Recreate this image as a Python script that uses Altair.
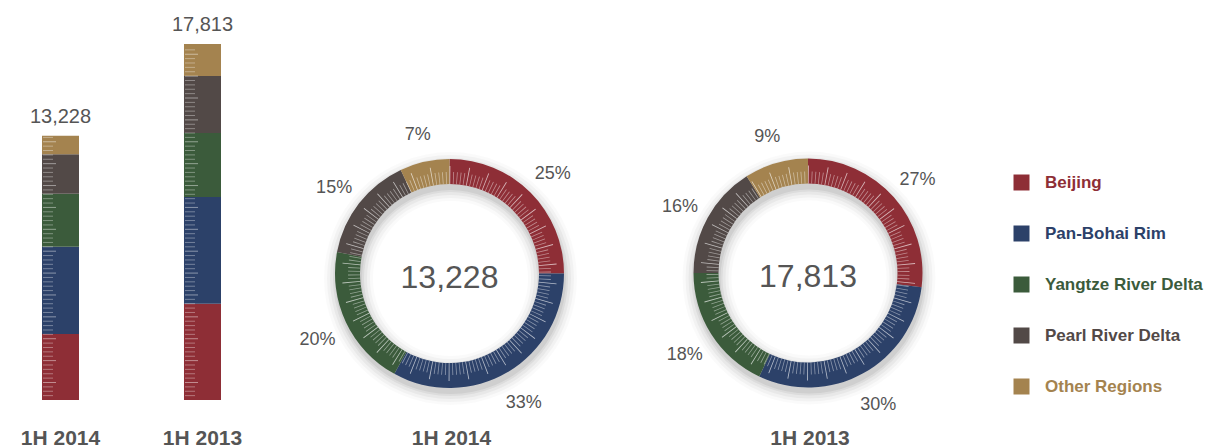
import altair as alt
import numpy as np
import pandas as pd

# ---------------- data ----------------
periods = ["1H 2014", "1H 2013"]
regions = ["Beijing", "Pan-Bohai Rim", "Yangtze River Delta", "Pearl River Delta", "Other Regions"]
colors = ["#8e2e36", "#2c4169", "#3b5b3b", "#524947", "#a4834f"]
values_2014 = [3307, 4365, 2646, 1984, 926]
values_2013 = [4810, 5344, 3206, 2850, 1603]

rows = []
for p, vals in zip(periods, [values_2014, values_2013]):
    for i, (r, v) in enumerate(zip(regions, vals)):
        rows.append({"period": p, "region": r, "value": v, "order": i})
df = pd.DataFrame(rows)

FONT = "Liberation Sans"
TXT = "#555555"

# decorative ruler texture (not data)
tick_step = 219
bar_tick_rows = []
for p, vals in zip(periods, [values_2014, values_2013]):
    total = sum(vals)
    k = 1
    while k * tick_step < total - 80:
        bar_tick_rows.append({"period": p, "y": k * tick_step, "major": k % 5 == 4})
        k += 1
bar_ticks = pd.DataFrame(bar_tick_rows)

n_ring = 170
ring = pd.DataFrame({"t": np.arange(n_ring) / n_ring, "major": np.arange(n_ring) % 5 == 0})

# ---------------- scales ----------------
x_scale = alt.Scale(domain=periods, range=[34, 213], paddingInner=0.7394, paddingOuter=0)
y_scale = alt.Scale(domain=[0, 17813], range=[392, 36], nice=False, zero=True)
color_scale = alt.Scale(domain=regions, range=colors)
theta_scale = alt.Scale(domain=[0, 1], range=[0, 2 * np.pi])

color_enc = alt.Color(
    "region:N",
    scale=color_scale,
    sort=regions,
    legend=alt.Legend(
        orient="none", legendX=1005, legendY=166, title=None,
        symbolType="square", symbolSize=256, symbolStrokeWidth=0, symbolOpacity=1,
        labelFont=FONT, labelFontSize=17, labelFontWeight="bold",
        labelColor={"expr": "scale('color', datum.value)"},
        rowPadding=33, labelOffset=15, padding=0,
    ),
)

X = alt.X("period:N", scale=x_scale, axis=None)

# ---------------- bars ----------------
bars = alt.Chart(df).mark_bar().encode(
    x=X,
    y=alt.Y("value:Q", scale=y_scale, axis=None, stack="zero"),
    color=color_enc,
    order=alt.Order("order:Q"),
)

minor_bt = alt.Chart(bar_ticks).transform_filter("!datum.major").mark_tick(
    color="white", thickness=1, size=10, xOffset=-12.5, opacity=0.35
).encode(x=X, y=alt.Y("y:Q", scale=y_scale))
major_bt = alt.Chart(bar_ticks).transform_filter("datum.major").mark_tick(
    color="white", thickness=1, size=13, xOffset=-11, opacity=0.45
).encode(x=X, y=alt.Y("y:Q", scale=y_scale))

bar_totals = alt.Chart(df).transform_aggregate(total="sum(value)", groupby=["period"]).mark_text(
    font=FONT, fontSize=20, color=TXT, baseline="alphabetic", dy=-13
).encode(x=X, y=alt.Y("total:Q", scale=y_scale), text=alt.Text("total:Q", format=","))

bar_names = alt.Chart(df).transform_aggregate(n="count()", groupby=["period"]).mark_text(
    font=FONT, fontSize=21, fontWeight="bold", color=TXT, baseline="alphabetic"
).encode(x=X, y=alt.value(437), text="period:N")

layers = [bars, minor_bt, major_bt, bar_totals, bar_names]

# ---------------- donuts ----------------
R_IN, R_OUT = 89.5, 114.5


def donut(period, cx, cy):
    one = pd.DataFrame({"period": [period]})
    out = []
    for k, op in [(12, 0.02), (9, 0.03), (6, 0.04), (3, 0.05), (1, 0.06)]:
        out.append(
            alt.Chart(one).mark_arc(
                theta=0, theta2=2 * np.pi, innerRadius=R_IN - k, outerRadius=R_OUT + k,
                color="#000000", opacity=op,
            ).encode(x=alt.value(cx + 1), y=alt.value(cy + 5))
        )
    d = (
        alt.Chart(df)
        .transform_filter(alt.datum.period == period)
        .transform_joinaggregate(total="sum(value)")
        .transform_window(cum="sum(value)", sort=[alt.SortField("order")], frame=[None, 0])
        .transform_calculate(
            start="(datum.cum - datum.value) / datum.total",
            end="datum.cum / datum.total",
            mid="(datum.cum - datum.value / 2) / datum.total",
            pct="datum.value / datum.total",
        )
    )
    out.append(
        d.mark_arc(innerRadius=R_IN, outerRadius=R_OUT).encode(
            x=alt.value(cx), y=alt.value(cy),
            theta=alt.Theta("start:Q", scale=theta_scale), theta2="end:Q",
            color=color_enc,
        )
    )
    rt = alt.Chart(ring).transform_calculate(t2="datum.t + 0.0013")
    out.append(
        rt.transform_filter("!datum.major").mark_arc(
            innerRadius=R_IN, outerRadius=R_IN + 12, color="white", opacity=0.45
        ).encode(x=alt.value(cx), y=alt.value(cy),
                 theta=alt.Theta("t:Q", scale=theta_scale), theta2="t2:Q")
    )
    out.append(
        rt.transform_filter("datum.major").mark_arc(
            innerRadius=R_IN, outerRadius=R_IN + 18, color="white", opacity=0.65
        ).encode(x=alt.value(cx), y=alt.value(cy),
                 theta=alt.Theta("t:Q", scale=theta_scale), theta2="t2:Q")
    )
    out.append(
        d.mark_text(radius=146, font=FONT, fontSize=18, color=TXT, dy=4).encode(
            x=alt.value(cx), y=alt.value(cy),
            theta=alt.Theta("mid:Q", scale=theta_scale),
            text=alt.Text("pct:Q", format=".0%"),
        )
    )
    out.append(
        alt.Chart(df).transform_filter(alt.datum.period == period)
        .transform_aggregate(total="sum(value)")
        .mark_text(font=FONT, fontSize=32, color=TXT, baseline="middle")
        .encode(x=alt.value(cx), y=alt.value(cy + 4), text=alt.Text("total:Q", format=","))
    )
    out.append(
        alt.Chart(one).mark_text(font=FONT, fontSize=21, fontWeight="bold", color=TXT, baseline="alphabetic")
        .encode(x=alt.value(cx + 2), y=alt.value(437), text="period:N")
    )
    return out


layers += donut("1H 2014", 441.5, 265.5)
layers += donut("1H 2013", 800, 265)

chart = (
    alt.layer(*layers)
    .properties(
        width=1206, height=440, autosize=alt.AutoSizeParams(type="none"), padding=0,
        view=alt.ViewBackground(stroke="transparent", strokeWidth=0),
    )
    .configure_view(strokeWidth=0, stroke="transparent")
    .configure(background="white")
)

chart.save("out.html", embed_options={"renderer": "svg", "actions": False})
